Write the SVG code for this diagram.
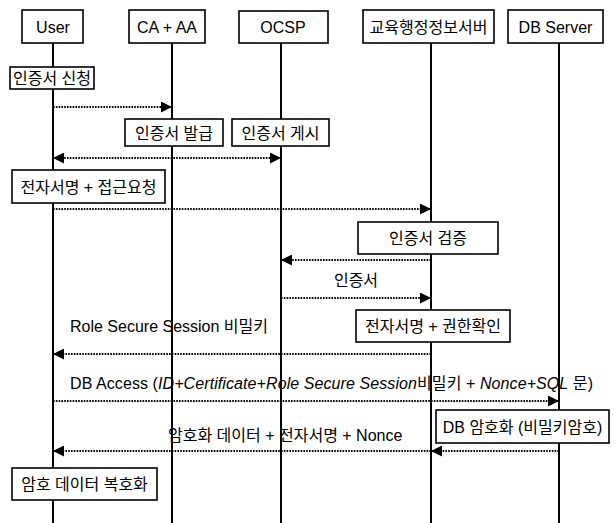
<svg xmlns="http://www.w3.org/2000/svg" width="616" height="523" viewBox="0 0 616 523">
<style>
  .box { fill: #fff; stroke: #000; stroke-width: 1.6; }
  .life { stroke: #000; stroke-width: 2; }
  .msg { stroke: #000; stroke-width: 2.2; stroke-dasharray: 1.6 1.2; fill: none; }
  text { font-family: "Liberation Sans", "Noto Sans CJK KR", Arial, sans-serif; font-size: 16px; fill: #000; }
  .c { text-anchor: middle; }
  .it { font-style: italic; }
</style>
<defs>
  <marker id="ah" markerUnits="userSpaceOnUse" markerWidth="11" markerHeight="11" refX="10" refY="5" orient="auto-start-reverse" viewBox="0 0 10 10">
    <path d="M0,0 L10,5 L0,10 z" fill="#000"/>
  </marker>
</defs>
<rect width="616" height="523" fill="#fff"/>

<g id="lifelines">
  <line class="life" x1="53" y1="43" x2="53" y2="523"/>
  <line class="life" x1="172" y1="43" x2="172" y2="523"/>
  <line class="life" x1="281" y1="43" x2="281" y2="523"/>
  <line class="life" x1="431" y1="43" x2="431" y2="523"/>
  <line class="life" x1="559" y1="43" x2="559" y2="523"/>
</g>

<g id="connectors">
  <line class="msg" x1="53" y1="107" x2="172" y2="107" marker-end="url(#ah)"/>
  <line class="msg" x1="53" y1="158" x2="281" y2="158" marker-start="url(#ah)" marker-end="url(#ah)"/>
  <line class="msg" x1="53" y1="209" x2="431" y2="209" marker-end="url(#ah)"/>
  <line class="msg" x1="431" y1="260" x2="281" y2="260" marker-end="url(#ah)"/>
  <line class="msg" x1="281" y1="298" x2="431" y2="298" marker-end="url(#ah)"/>
  <line class="msg" x1="431" y1="354" x2="53" y2="354" marker-end="url(#ah)"/>
  <line class="msg" x1="53" y1="401" x2="559" y2="401" marker-end="url(#ah)"/>
  <line class="msg" x1="559" y1="451" x2="431" y2="451" marker-end="url(#ah)"/>
  <line class="msg" x1="431" y1="451" x2="53" y2="451" marker-end="url(#ah)"/>
</g>

<g id="user"><rect class="box" x="22" y="10" width="61" height="33"/><text class="c" x="53" y="32.5">User</text></g>
<g id="ca"><rect class="box" x="129" y="10" width="76" height="33"/><text class="c" x="167" y="32.5">CA + AA</text></g>
<g id="ocsp"><rect class="box" x="239" y="11" width="89" height="32"/><text class="c" x="283" y="32.5">OCSP</text></g>
<g id="edu"><rect class="box" x="363" y="10" width="131" height="33"/><text class="c" x="428.5" y="32.5">교육행정정보서버</text></g>
<g id="db"><rect class="box" x="508" y="10" width="95" height="33"/><text class="c" x="555.5" y="32.5">DB Server</text></g>

<g id="n-apply"><rect class="box" x="10" y="67" width="84" height="22"/><text class="c" x="52" y="83.5">인증서 신청</text></g>
<g id="n-issue"><rect class="box" x="125" y="119" width="98" height="27"/><text class="c" x="174" y="138.5">인증서 발급</text></g>
<g id="n-post"><rect class="box" x="232" y="119" width="97" height="27"/><text class="c" x="280.5" y="138.5">인증서 게시</text></g>
<g id="n-sign"><rect class="box" x="12" y="170" width="153" height="33"/><text class="c" x="88.5" y="192.5">전자서명 + 접근요청</text></g>
<g id="n-verify"><rect class="box" x="358" y="222" width="140" height="32"/><text class="c" x="428" y="243.5">인증서 검증</text></g>
<g id="n-auth"><rect class="box" x="356" y="310" width="154" height="32"/><text class="c" x="433" y="331.5">전자서명 + 권한확인</text></g>
<g id="n-dbenc"><rect class="box" x="436" y="410" width="173" height="33"/><text class="c" x="522.5" y="432.5">DB 암호화 (비밀키암호)</text></g>
<g id="n-decrypt"><rect class="box" x="12" y="468" width="145" height="32"/><text class="c" x="84.5" y="489.5">암호 데이터 복호화</text></g>

<g id="labels">
  <text class="c" x="356" y="285.5">인증서</text>
  <text x="70" y="331.5">Role Secure Session 비밀키</text>
  <text x="70" y="388.5" textLength="523" lengthAdjust="spacing">DB Access (<tspan class="it">ID+Certificate+Role Secure Session</tspan>비밀키 + <tspan class="it">Nonce+SQL</tspan> 문)</text>
  <text x="168" y="440.5">암호화 데이터 + 전자서명 + Nonce</text>
</g>
</svg>
